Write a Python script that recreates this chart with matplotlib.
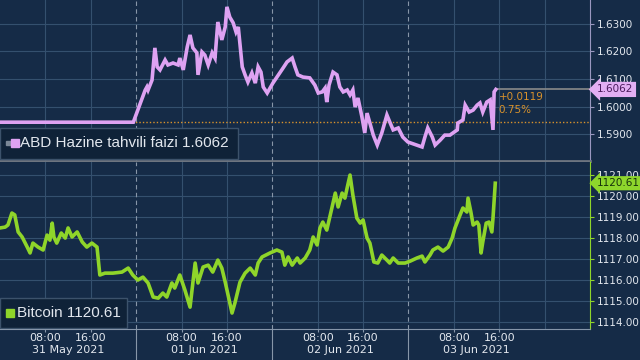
import numpy as np
import matplotlib
matplotlib.use('Agg')
import matplotlib.pyplot as plt
from matplotlib.patches import Rectangle
import matplotlib.transforms as mtrans

# time axis: hours from 31 May 2021 00:00
x_end = 104

# ABD Hazine tahvili faizi (US treasury yield)
ust_h = [0.0, 23.5, 25.6, 25.9, 26.1, 26.8, 27.3, 27.7, 28.2, 29.1, 29.6, 30.5, 31.4, 31.7, 32.3,
         33.0, 33.5, 34.0, 34.7, 34.9, 35.6, 36.1, 36.7, 37.4, 37.9, 38.4, 39.1, 39.7, 40.0, 40.5,
         41.1, 41.6, 42.0, 42.7, 43.2, 43.7, 44.4, 45.0, 45.5, 46.0, 46.4, 47.1, 48.1, 49.9, 50.6,
         51.5, 52.0, 52.5, 53.4, 54.6, 55.5, 56.1, 56.8, 57.3, 57.6, 58.0, 58.7, 59.4, 59.9, 60.5,
         61.2, 61.7, 62.2, 62.6, 63.1, 63.8, 64.3, 64.7, 65.2, 65.8, 66.5, 67.3, 68.2, 68.7, 69.3,
         70.2, 71.0, 71.9, 74.4, 74.9, 75.4, 76.2, 76.7, 77.6, 78.4, 79.3, 80.6, 80.7, 81.6, 82.0,
         82.7, 83.4, 84.1, 84.6, 85.1, 85.8, 86.4, 86.9, 87.1, 87.4]
ust_v = [1.5943, 1.5943, 1.6060, 1.6071, 1.6060, 1.6096, 1.6213, 1.6144, 1.6133, 1.6169, 1.6151,
         1.6158, 1.6151, 1.6176, 1.6133, 1.6216, 1.6260, 1.6213, 1.6195, 1.6115, 1.6198, 1.6187,
         1.6151, 1.6195, 1.6176, 1.6307, 1.6242, 1.6289, 1.6362, 1.6325, 1.6304, 1.6271, 1.6289,
         1.6144, 1.6115, 1.6089, 1.6122, 1.6085, 1.6144, 1.6125, 1.6071, 1.6049, 1.6085, 1.6140,
         1.6162, 1.6176, 1.6144, 1.6115, 1.6107, 1.6104, 1.6078, 1.6049, 1.6053, 1.6067, 1.6016,
         1.6078, 1.6125, 1.6115, 1.6071, 1.6053, 1.6060, 1.6042, 1.6060, 1.5998, 1.6031, 1.5962,
         1.5904, 1.5976, 1.5940, 1.5896, 1.5860, 1.5904, 1.5969, 1.5944, 1.5915, 1.5922, 1.5889,
         1.5871, 1.5853, 1.5889, 1.5922, 1.5889, 1.5860, 1.5878, 1.5896, 1.5896, 1.5915, 1.5940,
         1.5951, 1.6005, 1.5980, 1.5987, 1.6005, 1.6013, 1.5980, 1.6016, 1.6024, 1.5915, 1.6053,
         1.6062]
ust_prev = 1.5943

# Bitcoin
btc_h = [0.0, 0.9, 1.4, 2.1, 2.6, 3.2, 3.9, 4.8, 5.3, 5.8, 6.7, 7.6, 8.3, 8.8, 9.2, 9.5, 10.0,
         10.8, 11.5, 12.0, 12.7, 13.6, 14.5, 15.3, 16.2, 17.1, 17.6, 18.5, 19.9, 21.5, 22.6, 23.4,
         24.3, 25.2, 26.1, 27.0, 27.9, 28.7, 29.4, 30.3, 30.8, 31.7, 32.6, 33.5, 34.4, 34.9, 35.8,
         36.7, 37.5, 38.4, 39.1, 39.7, 40.2, 40.9, 41.4, 42.3, 43.2, 44.1, 45.0, 45.5, 46.2, 47.6,
         48.8, 49.7, 50.2, 50.8, 51.5, 52.4, 52.9, 53.8, 54.6, 55.2, 55.9, 56.4, 56.9, 57.6, 58.5,
         59.1, 59.6, 60.3, 60.8, 61.3, 61.7, 62.2, 62.9, 63.5, 64.0, 64.7, 65.2, 65.9, 66.6, 67.3,
         68.2, 68.7, 69.3, 70.2, 71.4, 72.3, 73.5, 74.4, 74.9, 75.8, 76.3, 77.2, 78.1, 79.0, 79.7,
         80.2, 81.1, 81.6, 82.3, 82.5, 83.0, 83.4, 84.1, 84.4, 84.8, 85.1, 85.7, 86.2, 86.7, 86.9,
         87.3]
btc_v = [1118.48, 1118.52, 1118.62, 1119.19, 1119.10, 1118.29, 1118.05, 1117.57, 1117.29, 1117.76,
         1117.57, 1117.43, 1118.14, 1117.90, 1118.71, 1118.05, 1117.76, 1118.24, 1118.00, 1118.48,
         1118.05, 1118.29, 1117.81, 1117.57, 1117.76, 1117.57, 1116.24, 1116.33, 1116.33, 1116.38,
         1116.57, 1116.24, 1116.00, 1116.14, 1115.86, 1115.19, 1115.14, 1115.38, 1115.19, 1115.86,
         1115.62, 1116.24, 1115.52, 1114.71, 1116.81, 1115.86, 1116.62, 1116.71, 1116.38, 1116.95,
         1116.57, 1115.90, 1115.29, 1114.43, 1114.90, 1115.90, 1116.33, 1116.57, 1116.24, 1116.81,
         1117.10, 1117.29, 1117.43, 1117.33, 1116.71, 1117.10, 1116.71, 1117.05, 1116.81, 1117.05,
         1117.43, 1118.05, 1117.67, 1118.48, 1118.76, 1118.38, 1119.43, 1120.14, 1119.48, 1120.14,
         1119.90, 1120.52, 1121.00, 1120.05, 1118.95, 1118.71, 1118.86, 1118.00, 1117.76, 1116.86,
         1116.81, 1117.19, 1116.95, 1116.81, 1117.05, 1116.81, 1116.81, 1116.90, 1117.05, 1117.14,
         1116.86, 1117.19, 1117.43, 1117.57, 1117.38, 1117.57, 1118.00, 1118.48, 1119.10, 1119.43,
         1119.24, 1119.90, 1119.24, 1118.62, 1118.76, 1118.62, 1117.29, 1117.81, 1118.71, 1118.76,
         1118.29, 1118.95, 1120.61]

time_ticks = [8, 16, 32, 40, 56, 64, 80, 88]
time_labels = ['08:00', '16:00'] * 4
day_pos = [12, 36, 60, 84]
day_labels = ['31 May 2021', '01 Jun 2021', '02 Jun 2021', '03 Jun 2021']
day_lines = [24, 48, 72]

ust_ticks = [1.59, 1.60, 1.61, 1.62, 1.63]
btc_ticks = [1114, 1115, 1116, 1117, 1118, 1119, 1120, 1121]

bg = '#152b47'
gridc = '#34506e'
txtc = '#e2e7ee'
violet = '#dea2f2'
green = '#8fd52a'
orange = '#d8922c'

fig = plt.figure(figsize=(6.4, 3.6), dpi=100, facecolor=bg)
ax1 = fig.add_axes([0, 1 - 161/360, 590/640, 161/360], facecolor=bg)
ax2 = fig.add_axes([0, 1 - 329/360, 590/640, 167/360], facecolor=bg)

for ax in (ax1, ax2):
    ax.set_xlim(0, x_end)
    for s in ['top', 'left']:
        ax.spines[s].set_visible(False)
    ax.yaxis.tick_right()
    # vertical grid, dashed at midnight
    for h in range(8, x_end, 8):
        if h in day_lines:
            ax.axvline(h, color='#8796a8', lw=0.8, ls=(0, (4, 3)), zorder=1)
        else:
            ax.axvline(h, color=gridc, lw=0.8, zorder=1)
    ax.yaxis.grid(True, color=gridc, lw=0.8)
    ax.set_axisbelow(True)

# top panel - treasury yield
ax1.set_ylim(1.5802, 1.6387)
ax1.set_yticks(ust_ticks)
ax1.set_yticklabels(['%.4f' % t for t in ust_ticks])
ax1.set_xticks([])
ax1.spines['bottom'].set_color('#6d7580')
ax1.spines['bottom'].set_linewidth(2)
ax1.spines['right'].set_color('#9a98c0')
ax1.tick_params(axis='y', colors='#9a98c0', labelcolor=txtc, length=3, labelsize=7.5, pad=2)
ax1.text(1.0, 1.64, '  1.6400', transform=mtrans.blended_transform_factory(ax1.transAxes, ax1.transData),
         color=txtc, fontsize=7.5, va='center', ha='left', clip_on=False)

ax1.axhline(ust_prev, color=orange, lw=1, ls=(0, (1, 1.5)), zorder=2)
ax1.plot(ust_h, ust_v, color=violet, lw=2.6, zorder=3, solid_joinstyle='miter')
ax1.plot([ust_h[-1], x_end], [ust_v[-1], ust_v[-1]], color='#8a8a8a', lw=1.2, zorder=2)
ax1.text(ust_h[-1] + 0.5, ust_v[-1] - 0.0009, '+%.4f' % (ust_v[-1] - ust_prev), color=orange,
         fontsize=7.5, va='top', ha='left')
ax1.text(ust_h[-1] + 0.5, ust_v[-1] - 0.0058, '%.2f%%' % ((ust_v[-1] - ust_prev) / ust_prev * 100),
         color=orange, fontsize=7.5, va='top', ha='left')
ax1.text(1.012, ust_v[-1], '%.4f' % ust_v[-1], transform=mtrans.blended_transform_factory(ax1.transAxes, ax1.transData),
         color='#4a1a5c', fontsize=7.5, va='center', ha='left', zorder=10, clip_on=False,
         bbox=dict(boxstyle='larrow,pad=0.25', fc='#e2aef3', ec='none'))

ax1.add_patch(Rectangle((0, 0.012), 238/590, 0.193, transform=ax1.transAxes, fc='#0f2238',
                        ec='#3c526b', lw=1, zorder=5))
ax1.plot([8/590], [0.112], marker='s', ms=3, color='#7a8796', transform=ax1.transAxes, zorder=6)
ax1.plot([15/590], [0.112], marker='s', ms=6, color=violet, transform=ax1.transAxes, zorder=6)
ax1.text(20/590, 0.112, 'ABD Hazine tahvili faizi %.4f' % ust_v[-1], transform=ax1.transAxes,
         color=txtc, fontsize=11, va='center', ha='left', zorder=6, family='Liberation Sans')

# bottom panel - bitcoin
ax2.set_ylim(1113.67, 1121.62)
ax2.set_yticks(btc_ticks)
ax2.set_yticklabels(['%.2f' % t for t in btc_ticks])
ax2.spines['right'].set_color(green)
ax2.spines['bottom'].set_color('#8696aa')
ax2.tick_params(axis='y', colors=green, labelcolor=txtc, length=3, labelsize=7.5, pad=2)
ax2.set_xticks(time_ticks)
ax2.set_xticklabels(time_labels)
ax2.tick_params(axis='x', colors='#8696aa', labelcolor=txtc, length=2, labelsize=8, pad=1)
xtr = ax2.get_xaxis_transform()
for p, lab in zip(day_pos, day_labels):
    ax2.text(p, -0.125, lab, transform=xtr, color=txtc, fontsize=8, ha='center', va='center')
for h in day_lines:
    ax2.plot([h, h], [0, -0.2], transform=xtr, color='#8796a8', lw=0.8, clip_on=False)

ax2.plot(btc_h, btc_v, color=green, lw=2.6, zorder=3)
ax2.text(1.012, btc_v[-1], '%.2f' % btc_v[-1], transform=mtrans.blended_transform_factory(ax2.transAxes, ax2.transData),
         color='#16320c', fontsize=7.5, va='center', ha='left', zorder=10, clip_on=False,
         bbox=dict(boxstyle='larrow,pad=0.2', fc='#8ed62c', ec='none'))

ax2.add_patch(Rectangle((0, 0.006), 127/590, 0.18, transform=ax2.transAxes, fc='#0f2238',
                        ec='#3c526b', lw=1, zorder=5))
ax2.plot([10/590], [0.096], marker='s', ms=6, color=green, transform=ax2.transAxes, zorder=6)
ax2.text(17/590, 0.096, 'Bitcoin %.2f' % btc_v[-1], transform=ax2.transAxes,
         color=txtc, fontsize=11, va='center', ha='left', zorder=6, family='Liberation Sans')

fig.savefig('out.png', dpi=100, facecolor=bg)
